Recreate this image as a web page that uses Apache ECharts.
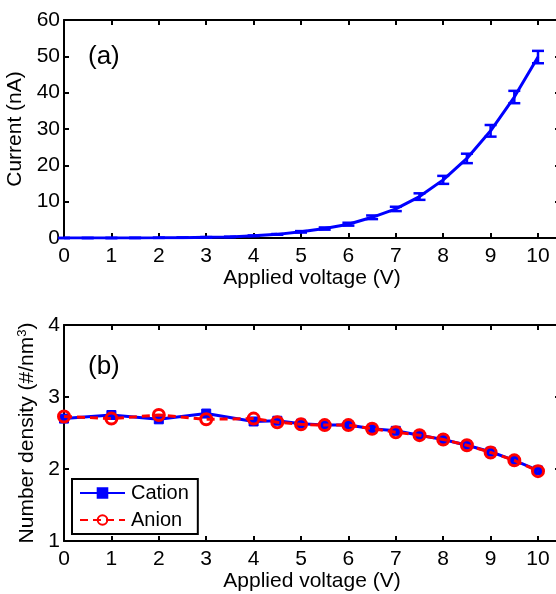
<!DOCTYPE html>
<html>
<head>
<meta charset="utf-8">
<script src="https://cdn.jsdelivr.net/npm/echarts@6/dist/echarts.min.js"></script>
<style>
  html, body { margin: 0; padding: 0; background: #fff; }
  #chart { width: 556px; height: 594px; }
</style>
</head>
<body>
<div id="chart"></div>
<script>
// (a) current vs applied voltage, with error bars
const voltageA = [0, 0.5, 1, 1.5, 2, 2.5, 3, 3.5, 4, 4.5, 5, 5.5, 6, 6.5, 7, 7.5, 8, 8.5, 9, 9.5, 10];
const current = [0, 0, 0, 0.02, 0.05, 0.1, 0.2, 0.3, 0.6, 1.0, 1.7, 2.6, 3.8, 5.7, 8.0, 11.4, 16.0, 21.9, 29.5, 38.8, 49.8];
const currentErr = [0, 0, 0, 0, 0, 0, 0.05, 0.05, 0.1, 0.1, 0.2, 0.3, 0.4, 0.5, 0.6, 0.9, 1.1, 1.3, 1.6, 1.7, 1.7];

// (b) number density of cations and anions
const voltageB = [0, 1, 2, 3, 4, 4.5, 5, 5.5, 6, 6.5, 7, 7.5, 8, 8.5, 9, 9.5, 10];
const cation = [2.70, 2.75, 2.69, 2.77, 2.66, 2.67, 2.63, 2.61, 2.61, 2.56, 2.53, 2.47, 2.41, 2.33, 2.24, 2.12, 1.98];
const anion  = [2.73, 2.70, 2.75, 2.69, 2.70, 2.65, 2.62, 2.61, 2.61, 2.56, 2.51, 2.47, 2.41, 2.33, 2.23, 2.12, 1.97];

const xTicks = [0, 1, 2, 3, 4, 5, 6, 7, 8, 9, 10];
const yTicksA = [0, 10, 20, 30, 40, 50, 60];
const yTicksB = [1, 2, 3, 4];

const FONT = 'Liberation Sans, Arial, Helvetica, sans-serif';
const BLUE = '#0000ff';
const RED = '#ff0000';
const XMAX = 10.464;   // the frame runs slightly past 10 V

const chart = echarts.init(document.getElementById('chart'), null, { renderer: 'canvas' });

function baseX(gridIndex, position, showLabel) {
  return {
    type: 'value', gridIndex, position, min: 0, max: XMAX, interval: 1,
    axisLine: { show: true, onZero: false, lineStyle: { color: '#000', width: 2 } },
    axisTick: { show: true, inside: true, length: 5, lineStyle: { color: '#000', width: 2 } },
    axisLabel: {
      show: showLabel, color: '#000', fontFamily: FONT, fontSize: 21, margin: 8,
      showMaxLabel: false,
      formatter: v => (xTicks.indexOf(v) >= 0 ? String(v) : '')
    },
    splitLine: { show: false },
    name: showLabel ? 'Applied voltage (V)' : '',
    nameLocation: 'middle', nameGap: 30,
    nameTextStyle: { color: '#000', fontFamily: FONT, fontSize: 21 }
  };
}

function baseY(gridIndex, position, ticks, showLabel, name, nameGap) {
  return {
    type: 'value', gridIndex, position,
    min: ticks[0], max: ticks[ticks.length - 1], interval: ticks[1] - ticks[0],
    axisLine: { show: true, onZero: false, lineStyle: { color: '#000', width: 2 } },
    axisTick: { show: true, inside: true, length: 5, lineStyle: { color: '#000', width: 2 } },
    axisLabel: { show: showLabel, color: '#000', fontFamily: FONT, fontSize: 21, margin: 4 },
    splitLine: { show: false },
    name: name, nameLocation: 'middle', nameGap: nameGap,
    nameTextStyle: {
      color: '#000', fontFamily: FONT, fontSize: 21,
      rich: { sup: { fontFamily: FONT, fontSize: 13, verticalAlign: 'top', padding: [0, 0, 9, 0] } }
    }
  };
}

const errorData = voltageA.map((v, i) => [v, current[i] - currentErr[i], current[i] + currentErr[i]]);

const option = {
  backgroundColor: '#fff',
  animation: false,
  grid: [
    { left: 64, top: 20, right: -4, height: 218, containLabel: false, outerBoundsMode: 'none' },
    { left: 64, top: 325, right: -4, height: 216, containLabel: false, outerBoundsMode: 'none' }
  ],
  xAxis: [
    baseX(0, 'bottom', true),
    baseX(0, 'top', false),
    baseX(1, 'bottom', true),
    baseX(1, 'top', false)
  ],
  yAxis: [
    baseY(0, 'left', yTicksA, true, 'Current (nA)', 34),
    baseY(0, 'right', yTicksA, false, '', 0),
    baseY(1, 'left', yTicksB, true, 'Number density (#/nm{sup|3})', 23),
    baseY(1, 'right', yTicksB, false, '', 0)
  ],
  legend: {
    data: ['Cation', 'Anion'],
    orient: 'vertical',
    left: 72, top: 479,
    padding: [4, 9, 4, 7],
    itemGap: 7,
    itemWidth: 45, itemHeight: 12,
    backgroundColor: '#fff',
    borderColor: '#000', borderWidth: 2,
    textStyle: { color: '#000', fontFamily: FONT, fontSize: 20, padding: [0, 0, 0, 1] }
  },
  graphic: [
    { type: 'text', left: 88, top: 44, style: { text: '(a)', fontFamily: FONT, fontSize: 26, fill: '#000' } },
    { type: 'text', left: 88, top: 354, style: { text: '(b)', fontFamily: FONT, fontSize: 26, fill: '#000' } }
  ],
  series: [
    {
      name: 'Current', type: 'line', xAxisIndex: 0, yAxisIndex: 0,
      data: voltageA.map((v, i) => [v, current[i]]),
      showSymbol: false, symbol: 'none',
      lineStyle: { color: BLUE, width: 3 }, color: BLUE, z: 3
    },
    {
      name: 'Current error', type: 'custom', xAxisIndex: 0, yAxisIndex: 0,
      data: errorData,
      encode: { x: 0, y: [1, 2] },
      renderItem: function (params, api) {
        const x = api.value(0);
        const lo = api.coord([x, api.value(1)]);
        const hi = api.coord([x, api.value(2)]);
        const half = 6;
        const style = { stroke: BLUE, lineWidth: 2.5 };
        return {
          type: 'group',
          children: [
            { type: 'line', shape: { x1: lo[0], y1: lo[1], x2: hi[0], y2: hi[1] }, style },
            { type: 'line', shape: { x1: lo[0] - half, y1: lo[1], x2: lo[0] + half, y2: lo[1] }, style },
            { type: 'line', shape: { x1: hi[0] - half, y1: hi[1], x2: hi[0] + half, y2: hi[1] }, style }
          ]
        };
      },
      z: 4
    },
    {
      name: 'Cation', type: 'line', xAxisIndex: 2, yAxisIndex: 2,
      data: voltageB.map((v, i) => [v, cation[i]]),
      symbol: 'rect', symbolSize: 9, color: BLUE,
      itemStyle: { color: BLUE, borderColor: BLUE, borderWidth: 1 },
      lineStyle: { color: BLUE, width: 3 }, z: 3
    },
    {
      name: 'Anion', type: 'line', xAxisIndex: 2, yAxisIndex: 2,
      data: voltageB.map((v, i) => [v, anion[i]]),
      symbol: 'circle', symbolSize: 11, color: RED,
      itemStyle: { color: 'rgba(255,255,255,0)', borderColor: RED, borderWidth: 3 },
      lineStyle: { color: RED, width: 3, type: [8, 5] }, z: 4
    }
  ]
};

chart.setOption(option);
</script>
</body>
</html>
